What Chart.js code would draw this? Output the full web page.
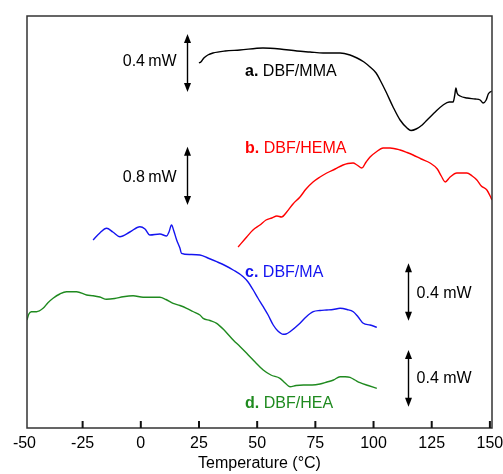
<!DOCTYPE html>
<html>
<head>
<meta charset="utf-8">
<script src="https://cdn.jsdelivr.net/npm/chart.js@4.4.1/dist/chart.umd.min.js"></script>
<style>
  html,body{margin:0;padding:0;background:#fff;}
  canvas{display:block;}
</style>
</head>
<body>
<canvas id="c" width="503" height="474"></canvas>
<script>
// ---- data (temperature in °C, heat flow in arbitrary offset units) ----
const tempA = [25.0,25.8,27.1,28.8,31.0,36.2,42.6,52.5,59.8,67.1,72.7,78.3,85.6,89.9,92.9,95.9,98.5,101.1,102.8,105.4,108.4,111.4,114.4,116.1,118.3,120.9,123.0,126.5,129.9,132.5,134.2,134.9,135.4,135.9,137.2,140.2,143.7,145.8,147.1,148.4,149.3,150.1,150.9];
const flowA = [365,366,370,373,375,377,378,380,379,377,376,375,375,373,370,366,361,355,348,336,321,308,300,297.5,299,303,308,316,323,326,326,333,340,335,332,330,329,328,325,328,334,336,337];

const tempB = [41.8,45.5,48.2,51.2,53.8,56.3,58.5,60.5,62.7,65.4,68.4,71.0,74.0,77.0,79.9,83.5,86.9,89.0,91.2,92.9,95.0,96.8,98.5,101.1,104.1,107.1,111.4,114.4,117.0,120.5,124.3,127.4,129.1,130.8,132.9,135.8,140.1,142.4,144.4,146.3,148.7,150.1,150.9];
const flowB = [181,191,198,203,208,210,212,211,216,224,231,239,246,251,255,259,263,264.5,265,263,260,266,271,276,280,280,278,275.5,273,269,265,259,252,246,251,255,255,252,248,242,238,232,228];

const tempC = [-20.5,-17.6,-14.7,-12.0,-9.0,-4.7,-0.4,1.8,3.9,8.2,11.1,12.1,13.2,14.2,15.4,16.8,17.5,21.1,25.4,28.8,32.6,36.2,39.7,44.0,46.1,48.3,50.3,52.6,54.7,56.9,58.9,61.2,62.4,64.1,68.4,71.0,74.1,77.0,79.9,82.6,85.6,88.6,91.3,93.4,95.6,98.5,101.4];
const flowC = [188,195,199.7,196,191.3,196,201.3,199,193,194,192,196,203,197,188,180,174.7,173.5,173,170,166.3,162.5,158,151.3,146,138,130,121.3,113,103,97,93.7,94,96.3,104.7,111,116.3,117.5,118,118.5,119.7,118.5,116.3,111,104.7,103,100.7];

const tempD = [-48.9,-48.1,-47.0,-44.8,-42.0,-40.0,-37.7,-34.8,-31.9,-27.6,-23.3,-20.5,-17.6,-14.7,-11.2,-7.6,-3.3,1.0,8.2,10.8,13.9,16.8,19.7,22.4,25.4,26.8,29.7,32.6,36.2,39.7,42.6,45.5,49.1,52.6,55.9,59.8,62.0,64.1,66.7,69.9,73.6,77.0,80.0,82.8,85.6,87.8,89.9,92.0,94.2,97.7,101.4];
const flowD = [108,114,116.3,116.3,119.7,125,129.7,134,136.3,136.3,133,132.3,131,128.7,129.5,131.3,132.3,130.7,130.7,128.5,124.7,122.5,119.7,116.5,113,109.7,107.5,104.7,97,88,81.5,74.7,66,58,53,49.7,45,41.3,42.5,43,43,44,46,48,51.3,51.3,50.7,48,45.3,42.5,39.7];

const tickValues = [-50,-25,0,25,50,75,100,125,150];
const seriesNames = ['DBF/MMA','DBF/HEMA','DBF/MA','DBF/HEA'];
const seriesTags = ['a.','b.','c.','d.'];
const scaleLabels = ['0.4\u2009mW','0.8\u2009mW','0.4 mW','0.4 mW'];

const X_MIN = -48.9, X_MAX = 150.9, Y_MIN = 0, Y_MAX = 412;
const FONT = '"Liberation Sans", Arial, Helvetica, sans-serif';
const COLORS = ['#000000','#ff0000','#1414f0','#1f8a1f'];

const pts = (t, v) => t.map((x, i) => ({x: x, y: v[i]}));

// annotations placed in data coordinates
const seriesLabelPos = [
  {x: 44.8, y: 352.3},
  {x: 44.8, y: 274.7},
  {x: 44.8, y: 151.3},
  {x: 44.8, y: 19.7}
];
const scaleLabelPos = [
  {x: 15.4, y: 362, align: 'right'},
  {x: 15.4, y: 246.3, align: 'right'},
  {x: 118.5, y: 130.3, align: 'left'},
  {x: 118.5, y: 45.3, align: 'left'}
];
const arrowPos = [
  {x: 19.7, y1: 394, y2: 336},
  {x: 19.7, y1: 281.3, y2: 223},
  {x: 114.9, y1: 164.7, y2: 107.3},
  {x: 114.9, y1: 78, y2: 21.3}
];

const decor = {
  id: 'decor',
  beforeDraw(chart) {
    const ctx = chart.ctx;
    ctx.save();
    ctx.fillStyle = '#fff';
    ctx.fillRect(0, 0, chart.width, chart.height);
    ctx.restore();
  },
  afterDatasetsDraw(chart) {
    const ctx = chart.ctx;
    const a = chart.chartArea;
    const xs = chart.scales.x, ys = chart.scales.y;
    ctx.save();
    // frame
    ctx.strokeStyle = '#333';
    ctx.lineWidth = 1.5;
    ctx.strokeRect(a.left, a.top, a.right - a.left, a.bottom - a.top);
    // inward ticks
    ctx.strokeStyle = '#111';
    ctx.lineWidth = 2;
    xs.ticks.forEach(t => {
      const px = xs.getPixelForValue(t.value);
      if (px > a.left + 2 && px < a.right - 2) {
        ctx.beginPath();
        ctx.moveTo(px, a.bottom);
        ctx.lineTo(px, a.bottom - 7);
        ctx.stroke();
      }
    });
    // series labels
    ctx.textBaseline = 'alphabetic';
    ctx.textAlign = 'left';
    seriesLabelPos.forEach((p, i) => {
      const px = xs.getPixelForValue(p.x), py = ys.getPixelForValue(p.y);
      ctx.fillStyle = COLORS[i];
      ctx.font = 'bold 16px ' + FONT;
      ctx.fillText(seriesTags[i], px, py);
      const w = ctx.measureText(seriesTags[i] + ' ').width;
      ctx.font = '16px ' + FONT;
      ctx.fillText(seriesNames[i], px + w, py);
    });
    // scale bar labels
    ctx.fillStyle = '#000';
    ctx.font = '16px ' + FONT;
    scaleLabelPos.forEach((p, i) => {
      ctx.textAlign = p.align;
      ctx.fillText(scaleLabels[i], xs.getPixelForValue(p.x), ys.getPixelForValue(p.y));
    });
    // double arrows
    ctx.strokeStyle = '#000';
    ctx.fillStyle = '#000';
    ctx.lineWidth = 1.4;
    arrowPos.forEach(p => {
      const px = Math.round(xs.getPixelForValue(p.x)) + 0.5;
      const yTop = ys.getPixelForValue(p.y1), yBot = ys.getPixelForValue(p.y2);
      const hl = 9, hw = 3.5;
      ctx.beginPath();
      ctx.moveTo(px, yTop + hl - 1);
      ctx.lineTo(px, yBot - hl + 1);
      ctx.stroke();
      ctx.beginPath();
      ctx.moveTo(px, yTop); ctx.lineTo(px - hw, yTop + hl); ctx.lineTo(px + hw, yTop + hl); ctx.closePath(); ctx.fill();
      ctx.beginPath();
      ctx.moveTo(px, yBot); ctx.lineTo(px - hw, yBot - hl); ctx.lineTo(px + hw, yBot - hl); ctx.closePath(); ctx.fill();
    });
    ctx.restore();
  }
};

const mkSet = (t, v, i) => ({
  label: seriesNames[i],
  data: pts(t, v),
  borderColor: COLORS[i],
  borderWidth: 1.4,
  pointRadius: 0,
  fill: false,
  cubicInterpolationMode: 'monotone'
});

new Chart(document.getElementById('c'), {
  type: 'line',
  data: {
    datasets: [
      mkSet(tempA, flowA, 0),
      mkSet(tempB, flowB, 1),
      mkSet(tempC, flowC, 2),
      mkSet(tempD, flowD, 3)
    ]
  },
  options: {
    responsive: false,
    animation: false,
    devicePixelRatio: 1,
    layout: {padding: {left: 27, right: 11, top: 16, bottom: 0}},
    plugins: {legend: {display: false}, tooltip: {enabled: false}},
    scales: {
      x: {
        type: 'linear',
        min: X_MIN,
        max: X_MAX,
        afterBuildTicks: s => { s.ticks = tickValues.map(v => ({value: v})); },
        afterFit: s => { s.height = 46; s.paddingLeft = 0; s.paddingRight = 0; },
        ticks: {
          font: {family: FONT, size: 16},
          color: '#000',
          padding: 6,
          autoSkip: false,
          maxRotation: 0,
          minRotation: 0,
          callback: v => String(v)
        },
        grid: {display: false, drawTicks: false},
        border: {display: false},
        title: {
          display: true,
          text: 'Temperature (\u00B0C)',
          font: {family: FONT, size: 16},
          color: '#000',
          padding: {top: 0, bottom: 1}
        }
      },
      y: {display: false, min: Y_MIN, max: Y_MAX}
    }
  },
  plugins: [decor]
});
</script>
</body>
</html>
